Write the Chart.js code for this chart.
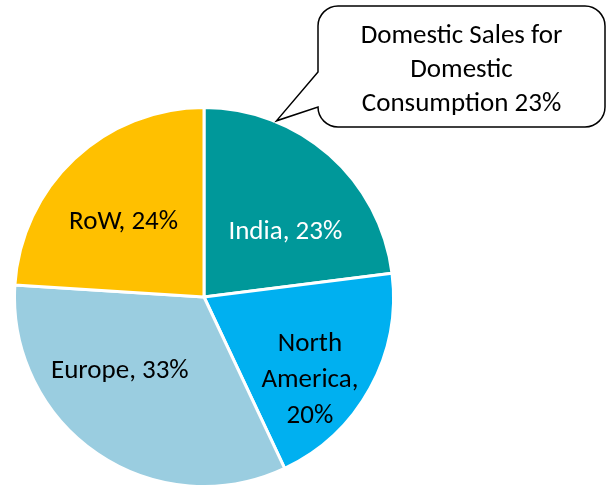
<!DOCTYPE html>
<html>
<head>
<meta charset="utf-8">
<script src="https://cdn.jsdelivr.net/npm/chart.js@4"></script>
<style>
  html, body { margin: 0; padding: 0; background: #fff; }
  #wrap { width: 616px; height: 491px; position: relative; }
</style>
</head>
<body>
<div id="wrap"><canvas id="c"></canvas></div>
<script>
const regions = ['India', 'North America', 'Europe', 'RoW'];
const shares = [23, 20, 33, 24];
const sliceColors = ['#00989A', '#00B0F0', '#9ACDE0', '#FFC000'];
const labelLines = [['India, 23%'], ['North', 'America,', '20%'], ['Europe, 33%'], ['RoW, 24%']];
const labelColors = ['#ffffff', '#000000', '#000000', '#000000'];
// where each label sits: degrees clockwise from 12 o'clock, fraction of radius
const labelAngles = [50, 127, 230, 314];
const labelRadii = [0.56, 0.70, 0.58, 0.59];
const calloutLines = ['Domestic Sales for', 'Domestic', 'Consumption 23%'];

const FONT = '27px Carlito, Calibri, Lato, sans-serif';
const LINE_H = 36;
const CAP_HALF = 10; // half the cap height, to centre caps on a point

const sliceLabels = {
  id: 'sliceLabels',
  afterDatasetsDraw(chart) {
    const ctx = chart.ctx;
    const arcs = chart.getDatasetMeta(0).data;
    ctx.save();
    ctx.font = FONT;
    ctx.textAlign = 'center';
    ctx.textBaseline = 'alphabetic';
    arcs.forEach((arc, i) => {
      const a = labelAngles[i] * Math.PI / 180;
      const r = arc.outerRadius * labelRadii[i];
      const x = arc.x + r * Math.sin(a);
      const y = arc.y - r * Math.cos(a);
      const lines = labelLines[i];
      ctx.fillStyle = labelColors[i];
      lines.forEach((t, k) => ctx.fillText(t, x, y + CAP_HALF + (k - (lines.length - 1) / 2) * LINE_H));
    });
    ctx.restore();
  }
};

// speech bubble pointing at the India slice
const callout = {
  id: 'callout',
  afterDraw(chart) {
    const ctx = chart.ctx;
    const india = chart.getDatasetMeta(0).data[0];
    const ang = india.startAngle + 0.27 * (india.endAngle - india.startAngle);
    const tipX = india.x + (india.outerRadius + 1) * Math.cos(ang);
    const tipY = india.y + (india.outerRadius + 1) * Math.sin(ang);
    const x0 = 318, x1 = 605, y0 = 6, y1 = 127, r = 20;
    ctx.save();
    ctx.beginPath();
    ctx.moveTo(x0 + r, y0);
    ctx.lineTo(x1 - r, y0);
    ctx.arcTo(x1, y0, x1, y0 + r, r);
    ctx.lineTo(x1, y1 - r);
    ctx.arcTo(x1, y1, x1 - r, y1, r);
    ctx.lineTo(x0 + r, y1);
    ctx.arcTo(x0, y1, x0, y1 - r, r);
    ctx.lineTo(tipX, tipY);
    ctx.lineTo(x0, 72);
    ctx.lineTo(x0, y0 + r);
    ctx.arcTo(x0, y0, x0 + r, y0, r);
    ctx.closePath();
    ctx.fillStyle = '#ffffff';
    ctx.fill();
    ctx.lineWidth = 1.5;
    ctx.strokeStyle = '#000000';
    ctx.stroke();
    ctx.font = FONT;
    ctx.fillStyle = '#000000';
    ctx.textAlign = 'center';
    ctx.textBaseline = 'alphabetic';
    calloutLines.forEach((t, k) => ctx.fillText(t, (x0 + x1) / 2, 43 + k * 34));
    ctx.restore();
  }
};

new Chart(document.getElementById('c'), {
  type: 'pie',
  data: {
    labels: regions,
    datasets: [{
      data: shares,
      backgroundColor: sliceColors,
      borderColor: '#ffffff',
      borderWidth: 3
    }]
  },
  options: {
    responsive: true,
    maintainAspectRatio: false,
    animation: false,
    layout: { padding: { left: 13, right: 221, top: 106, bottom: 3 } },
    plugins: {
      legend: { display: false },
      tooltip: { enabled: false }
    }
  },
  plugins: [sliceLabels, callout]
});
</script>
</body>
</html>
